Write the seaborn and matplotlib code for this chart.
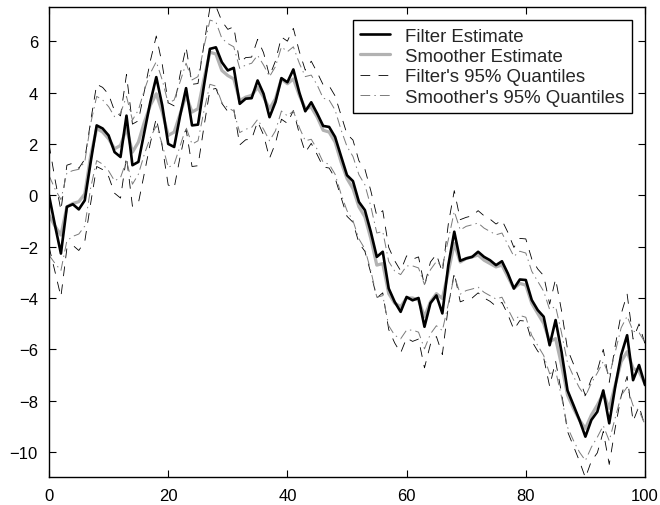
import numpy as np
import pandas as pd
import matplotlib
matplotlib.use("Agg")
import matplotlib.pyplot as plt
import seaborn as sns

# ---------------- data ----------------
t = list(range(101))

filter_est = [0, -1.17, -2.27, -0.45, -0.35, -0.55, -0.2, 1.3, 2.72, 2.6,
              2.33, 1.68, 1.49, 3.1, 1.17, 1.3, 2.46, 3.63, 4.6, 3.5,
              2.0, 1.88, 3.1, 4.17, 2.72, 2.75, 4.27, 5.7, 5.76, 5.18,
              4.86, 4.96, 3.56, 3.76, 3.78, 4.47, 3.95, 3.04, 3.63, 4.56,
              4.4, 4.9, 4.0, 3.27, 3.62, 3.18, 2.7, 2.66, 2.27, 1.52,
              0.78, 0.55, -0.26, -0.58, -1.43, -2.4, -2.2, -3.63, -4.15, -4.54,
              -3.96, -4.09, -4.0, -5.12, -4.2, -3.9, -4.6, -2.72, -1.42, -2.55,
              -2.46, -2.4, -2.2, -2.4, -2.53, -2.72, -2.57, -3.05, -3.63, -3.28,
              -3.3, -4.08, -4.47, -4.73, -5.84, -4.86, -6.1, -7.6, -8.17, -8.75,
              -9.4, -8.75, -8.43, -7.6, -8.88, -7.46, -6.22, -5.45, -7.2, -6.61,
              -7.39]

smoother_est = [-0.78, -1.2, -1.55, -0.45, -0.32, -0.25, 0.05, 1.55, 2.6, 2.46,
                2.2, 1.81, 1.94, 2.6, 1.68, 2.07, 2.85, 3.5, 3.95, 3.24,
                2.33, 2.46, 3.17, 3.89, 3.24, 3.37, 4.53, 5.57, 5.5, 4.86,
                4.66, 4.53, 3.69, 3.82, 3.89, 4.2, 3.82, 3.37, 3.76, 4.53,
                4.34, 4.53, 3.89, 3.37, 3.43, 3.04, 2.53, 2.46, 2.07, 1.3,
                0.65, 0.26, -0.45, -0.84, -1.69, -2.72, -2.66, -3.83, -4.2, -4.34,
                -4.0, -4.0, -4.08, -4.73, -4.15, -3.83, -4.02, -2.98, -1.88, -2.6,
                -2.46, -2.4, -2.33, -2.53, -2.66, -2.79, -2.72, -3.18, -3.63, -3.43,
                -3.5, -4.21, -4.6, -4.99, -5.7, -5.58, -6.61, -7.78, -8.3, -8.75,
                -9.08, -8.56, -8.17, -7.72, -8.3, -7.39, -6.48, -6.09, -6.74, -6.87,
                -7.33]

# half-width of the 95% bands (1.96 * standard deviation)
filter_hw = [2.0, 1.8, 1.68, 1.62, 1.6, 1.6, 1.6, 1.6, 1.6, 1.6,
             1.6, 1.6, 1.6, 1.6, 1.6, 1.6, 1.6, 1.6, 1.6, 1.6,
             1.6, 1.6, 1.6, 1.6, 1.6, 1.6, 1.6, 1.6, 1.6, 1.6,
             1.6, 1.6, 1.6, 1.6, 1.6, 1.6, 1.6, 1.6, 1.6, 1.6,
             1.6, 1.6, 1.6, 1.6, 1.6, 1.6, 1.6, 1.6, 1.6, 1.6,
             1.6, 1.6, 1.6, 1.6, 1.6, 1.6, 1.6, 1.6, 1.6, 1.6,
             1.6, 1.6, 1.6, 1.6, 1.6, 1.6, 1.6, 1.6, 1.6, 1.6,
             1.6, 1.6, 1.6, 1.6, 1.6, 1.6, 1.6, 1.6, 1.6, 1.6,
             1.6, 1.6, 1.6, 1.6, 1.6, 1.6, 1.6, 1.6, 1.6, 1.6,
             1.6, 1.6, 1.6, 1.6, 1.6, 1.6, 1.6, 1.6, 1.6, 1.6,
             1.6]

smoother_hw = [1.55, 1.45, 1.38, 1.32, 1.28, 1.26, 1.25, 1.25, 1.25, 1.25,
               1.25, 1.25, 1.25, 1.25, 1.25, 1.25, 1.25, 1.25, 1.25, 1.25,
               1.25, 1.25, 1.25, 1.25, 1.25, 1.25, 1.25, 1.25, 1.25, 1.25,
               1.25, 1.25, 1.25, 1.25, 1.25, 1.25, 1.25, 1.25, 1.25, 1.25,
               1.25, 1.25, 1.25, 1.25, 1.25, 1.25, 1.25, 1.25, 1.25, 1.25,
               1.25, 1.25, 1.25, 1.25, 1.25, 1.25, 1.25, 1.25, 1.25, 1.25,
               1.25, 1.25, 1.25, 1.25, 1.25, 1.25, 1.25, 1.25, 1.25, 1.25,
               1.25, 1.25, 1.25, 1.25, 1.25, 1.25, 1.25, 1.25, 1.25, 1.25,
               1.25, 1.25, 1.25, 1.25, 1.25, 1.25, 1.25, 1.25, 1.25, 1.25,
               1.25, 1.25, 1.25, 1.25, 1.26, 1.28, 1.32, 1.38, 1.45, 1.52,
               1.6]

x_ticks = [0, 20, 40, 60, 80, 100]
y_ticks = [-10, -8, -6, -4, -2, 0, 2, 4, 6]

# ---------------- figure ----------------
sns.set_style("ticks")
plt.rcParams["font.family"] = ["Liberation Sans", "DejaVu Sans"]
plt.rcParams["lines.scale_dashes"] = False

fig = plt.figure(figsize=(6.6, 5.06), dpi=100)
ax = fig.add_axes([49 / 660, 1 - 478 / 506, 596 / 660, 470 / 506])

df = pd.DataFrame({
    "t": t,
    "filter": filter_est,
    "smoother": smoother_est,
    "f_lo": np.array(filter_est) - np.array(filter_hw),
    "f_hi": np.array(filter_est) + np.array(filter_hw),
    "s_lo": np.array(smoother_est) - np.array(smoother_hw),
    "s_hi": np.array(smoother_est) + np.array(smoother_hw),
})

fq_dash = (0, (7, 6))
sq_dash = (0, (7, 3, 1, 3))

sns.lineplot(data=df, x="t", y="f_hi", ax=ax, color="black", lw=0.6,
             linestyle=fq_dash, label="Filter's 95% Quantiles")
sns.lineplot(data=df, x="t", y="f_lo", ax=ax, color="black", lw=0.6,
             linestyle=fq_dash, label="_nolegend_")
sns.lineplot(data=df, x="t", y="s_hi", ax=ax, color="#7a7a7a", lw=0.7,
             linestyle=sq_dash, label="Smoother's 95% Quantiles")
sns.lineplot(data=df, x="t", y="s_lo", ax=ax, color="#7a7a7a", lw=0.7,
             linestyle=sq_dash, label="_nolegend_")
sns.lineplot(data=df, x="t", y="smoother", ax=ax, color="#b2b2b2", lw=2.3,
             label="Smoother Estimate")
sns.lineplot(data=df, x="t", y="filter", ax=ax, color="black", lw=1.9,
             label="Filter Estimate")

ax.set_xlim(0, 100)
ax.set_ylim(-10.97, 7.33)
ax.set_xticks(x_ticks)
ax.set_yticks(y_ticks)
ax.set_xlabel("")
ax.set_ylabel("")
ax.tick_params(direction="in", top=True, right=True, labelsize=12,
               length=5, width=0.8, colors="black", pad=8)
for s in ax.spines.values():
    s.set_visible(True)
    s.set_color("black")
    s.set_linewidth(1.0)

handles, labels = ax.get_legend_handles_labels()
order = ["Filter Estimate", "Smoother Estimate",
         "Filter's 95% Quantiles", "Smoother's 95% Quantiles"]
hmap = dict(zip(labels, handles))
leg = ax.legend([hmap[k] for k in order], order, loc="upper right",
                fontsize=13.4, frameon=True, fancybox=False, shadow=False,
                edgecolor="black", framealpha=1, borderaxespad=0.7,
                labelspacing=0.18, handlelength=1.6, handletextpad=0.8,
                borderpad=0.4)
leg.get_frame().set_linewidth(1.0)

fig.savefig("out.png", dpi=100)
